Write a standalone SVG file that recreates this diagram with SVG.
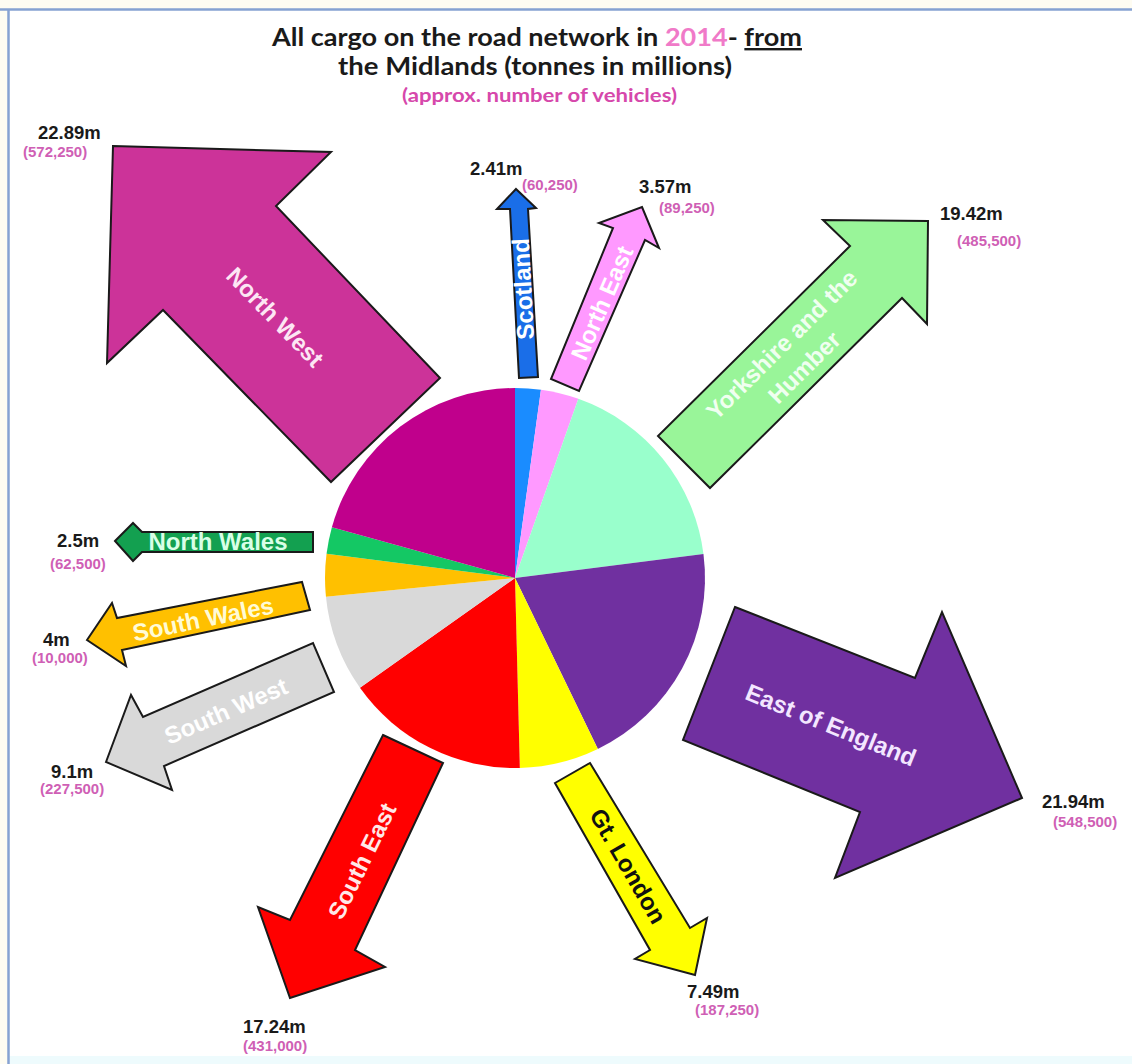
<svg xmlns="http://www.w3.org/2000/svg" width="1132" height="1064" viewBox="0 0 1132 1064">
<style>
.arrow{stroke:#1a1a1a;stroke-width:2;stroke-linejoin:miter}
.lbl{font-family:"Liberation Sans",Arial,sans-serif;font-weight:bold;font-size:24px;text-anchor:middle}
.val{font-family:"Liberation Sans",Arial,sans-serif;font-weight:bold;font-size:18.5px;fill:#1a1a1a}
.veh{font-family:"Liberation Sans",Arial,sans-serif;font-weight:bold;font-size:15px;fill:#cf5fb5}
.title{font-family:Lato,"Liberation Sans",sans-serif;font-weight:bold;fill:#1a1a1a;text-anchor:middle}
</style>
<g id="frame">
<rect x="0" y="0" width="1132" height="1064" fill="#fefcf2"/>
<rect x="9" y="10" width="1123" height="1046" fill="#ffffff"/>
<rect x="9" y="1056" width="1123" height="8" fill="#eefbfd"/>
<line x1="0" y1="9.5" x2="1132" y2="9.5" stroke="#86a2d2" stroke-width="2.5"/>
<line x1="8.5" y1="9" x2="8.5" y2="1064" stroke="#86a2d2" stroke-width="2.5"/>
</g>
<g id="title">
<text class="title" x="537" y="46" font-size="24" textLength="530" lengthAdjust="spacingAndGlyphs">All cargo on the road network in <tspan fill="#f07ac8">2014</tspan>- <tspan text-decoration="underline">from</tspan></text>
<text class="title" x="535" y="75" font-size="24" textLength="394" lengthAdjust="spacingAndGlyphs">the Midlands (tonnes in millions)</text>
<text class="title" x="539.5" y="102" font-size="18" fill="#d648ab" style="fill:#d648ab" textLength="275" lengthAdjust="spacingAndGlyphs">(approx. number of vehicles)</text>
</g>
<g id="pie">
<path d="M515,578 L515,388 A190,190 0 0 1 540.95,389.8 Z" fill="#1a8cff"/>
<path d="M515,578 L540.95,389.8 A190,190 0 0 1 578.33,398.87 Z" fill="#ff99ff"/>
<path d="M515,578 L578.33,398.87 A190,190 0 0 1 703.46,553.89 Z" fill="#99ffcc"/>
<path d="M515,578 L703.46,553.89 A190,190 0 0 1 597.84,748.99 Z" fill="#7030a0"/>
<path d="M515,578 L597.84,748.99 A190,190 0 0 1 519.84,767.94 Z" fill="#ffff00"/>
<path d="M515,578 L519.84,767.94 A190,190 0 0 1 359.96,687.82 Z" fill="#ff0000"/>
<path d="M515,578 L359.96,687.82 A190,190 0 0 1 325.94,596.84 Z" fill="#d9d9d9"/>
<path d="M515,578 L325.94,596.84 A190,190 0 0 1 326.55,553.76 Z" fill="#ffc000"/>
<path d="M515,578 L326.55,553.76 A190,190 0 0 1 331.88,527.32 Z" fill="#14c864"/>
<path d="M515,578 L331.88,527.32 A190,190 0 0 1 515,388 Z" fill="#c0008c"/>
</g>
<g id="north-west">
<polygon class="arrow" fill="#cc3399" points="113,146 331,152 276,206 440,378 331,482 163,310 107,363"/>
<text class="lbl" fill="#fde6f4" transform="translate(275,317) rotate(46)" dy="0.35em">North West</text>
<text class="val" x="38" y="139">22.89m</text>
<text class="veh" x="23" y="157">(572,250)</text>
</g>
<g id="scotland">
<polygon class="arrow" fill="#1a6ee8" points="516,189 536,208 528,209 538,377 519,378 510,209 497,209"/>
<text class="lbl" fill="#ffffff" transform="translate(523,289) rotate(-93)" dy="0.35em">Scotland</text>
<text class="val" x="470" y="175">2.41m</text>
<text class="veh" x="522" y="190">(60,250)</text>
</g>
<g id="north-east">
<polygon class="arrow" fill="#ff99ff" points="642,207 659,248 645,240 579,391 551,379 613,228 599,223"/>
<text class="lbl" fill="#ffffff" transform="translate(602,303) rotate(-66.6)" dy="0.35em">North East</text>
<text class="val" x="639" y="193">3.57m</text>
<text class="veh" x="659" y="213">(89,250)</text>
</g>
<g id="yorkshire">
<polygon class="arrow" fill="#99f599" points="928,221 927,324 902,298 710,488 658,436 850,246 823,220"/>
<g transform="translate(793,356) rotate(-44.7)">
<text class="lbl" fill="#f0fff0" y="-16" dy="0.35em">Yorkshire and the</text>
<text class="lbl" fill="#f0fff0" y="16" dy="0.35em">Humber</text>
</g>
<text class="val" x="940" y="220">19.42m</text>
<text class="veh" x="957" y="246">(485,500)</text>
</g>
<g id="east-of-england">
<polygon class="arrow" fill="#7030a0" points="735,607 915,678 942,612 1022,798 835,878 860,812 683,740"/>
<text class="lbl" fill="#f3e6ff" transform="translate(831,725) rotate(22)" dy="0.35em">East of England</text>
<text class="val" x="1042" y="808">21.94m</text>
<text class="veh" x="1053" y="827">(548,500)</text>
</g>
<g id="north-wales">
<polygon class="arrow" fill="#13a050" points="115,541 133,523 142,532 313,532 313,552 142,552 133,561"/>
<text class="lbl" fill="#d8ffe6" x="218" y="550">North Wales</text>
<text class="val" x="57" y="547">2.5m</text>
<text class="veh" x="50" y="569">(62,500)</text>
</g>
<g id="south-wales">
<polygon class="arrow" fill="#ffc000" points="87,640 112,603 117,618 302,582 310,610 122,650 126,666"/>
<text class="lbl" fill="#fffbd6" transform="translate(203,619) rotate(-11.5)" dy="0.35em">South Wales</text>
<text class="val" x="43" y="646">4m</text>
<text class="veh" x="32" y="663">(10,000)</text>
</g>
<g id="south-west">
<polygon class="arrow" fill="#d9d9d9" points="106,762 131,695 143,717 313,643 334,692 164,766 172,790"/>
<text class="lbl" fill="#ffffff" transform="translate(226,711) rotate(-23.5)" dy="0.35em">South West</text>
<text class="val" x="51" y="778">9.1m</text>
<text class="veh" x="40" y="794">(227,500)</text>
</g>
<g id="south-east">
<polygon class="arrow" fill="#ff0000" points="383,735 443,763 355,950 385,967 290,998 258,907 290,920"/>
<text class="lbl" fill="#ffe8e8" transform="translate(362,861) rotate(-64)" dy="0.35em">South East</text>
<text class="val" x="243" y="1033">17.24m</text>
<text class="veh" x="243" y="1051">(431,000)</text>
</g>
<g id="greater-london">
<polygon class="arrow" fill="#ffff00" points="555,783 590,763 690,928 707,918 695,975 635,959 650,950"/>
<text class="lbl" fill="#111111" transform="translate(628,866) rotate(60)" dy="0.35em">Gt. London</text>
<text class="val" x="687" y="998">7.49m</text>
<text class="veh" x="695" y="1015">(187,250)</text>
</g>
</svg>
